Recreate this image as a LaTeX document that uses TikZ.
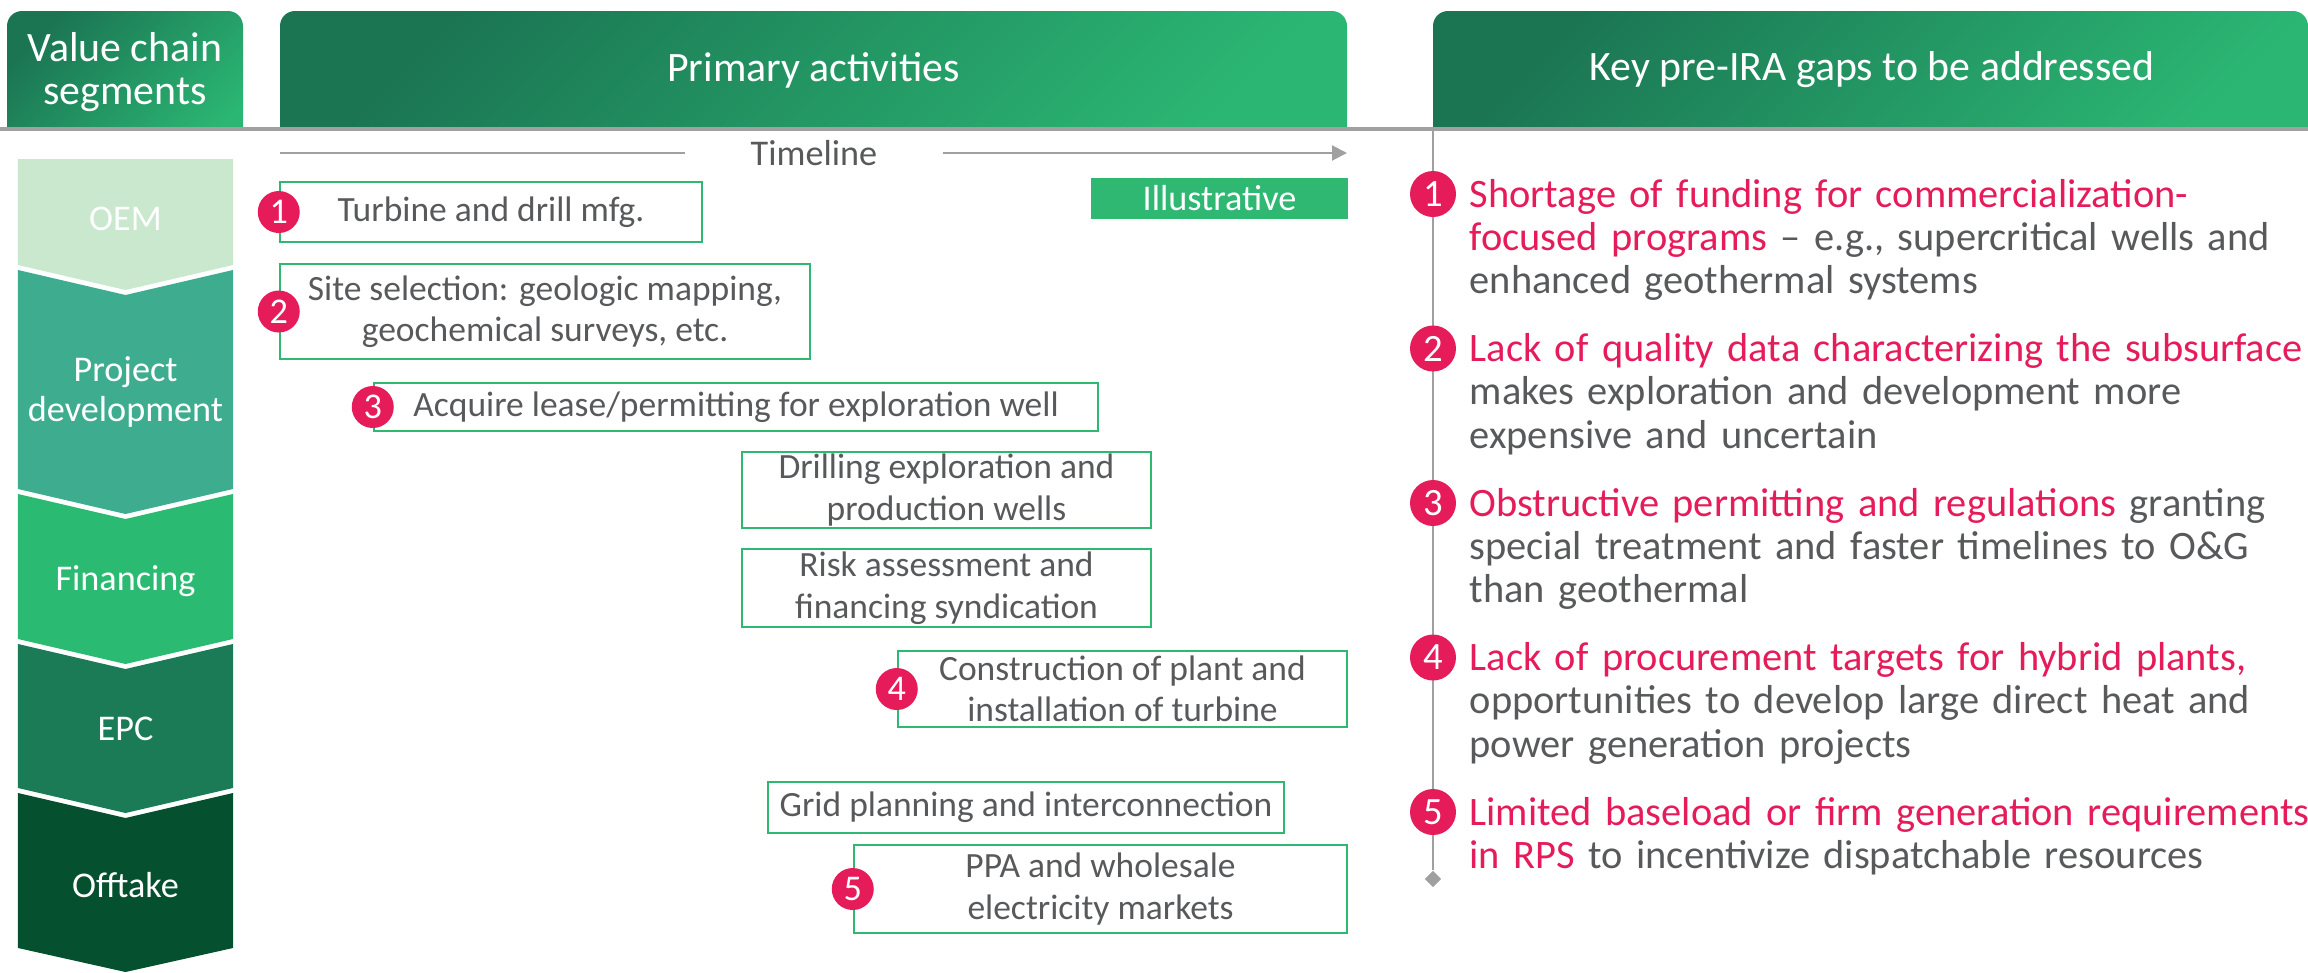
\documentclass[tikz,border=0pt]{standalone}
\usepackage{fontspec}
\setmainfont{Carlito}
\usetikzlibrary{arrows.meta,shapes.geometric}
\definecolor{hdrdark}{HTML}{1B7553}
\definecolor{hdrlight}{HTML}{2BB673}
\definecolor{oemc}{HTML}{C9E8CD}
\definecolor{devc}{HTML}{3EAD8F}
\definecolor{finc}{HTML}{2ABA72}
\definecolor{epcc}{HTML}{1B7B57}
\definecolor{offc}{HTML}{05502E}
\definecolor{boxgreen}{HTML}{2EB872}
\definecolor{badgered}{HTML}{E61B5A}
\definecolor{txtgray}{HTML}{58595B}
\definecolor{rulegray}{HTML}{A0A0A0}

\begin{document}
\begin{tikzpicture}[
	hdr/.style={top color=hdrdark, bottom color=hdrlight, shading angle=45, rounded corners=0.15cm},
	hdrtext/.style={text=white, align=center, font=\fontsize{11.9}{12.3}\selectfont},
	act/.style={draw=boxgreen, line width=0.7pt, text=txtgray, align=center, inner sep=0pt, font=\fontsize{10.1}{11.8}\selectfont},
	num/.style={circle, fill=badgered, text=white, inner sep=0pt, minimum size=0.42cm, font=\fontsize{10.3}{12}\selectfont},
	bignum/.style={num, minimum size=0.46cm, font=\fontsize{11}{12}\selectfont},
	seg/.style={text=white, align=center, font=\fontsize{10.3}{11.4}\selectfont},
	gap/.style={anchor=base west, text width=8.6cm, align=left, inner sep=0pt, text=txtgray, font=\fontsize{11.5}{12.35}\selectfont},
	tline/.style={draw=rulegray, line width=0.6pt},
]
	\useasboundingbox (0,0) rectangle (23.08,-9.72);

	% header bars, clipped flat at the bottom
	\begin{scope}
		\clip (0,-0.11) rectangle (23.08,-1.27);
		\shade[hdr] (0.07,-0.11) rectangle (2.43,-1.6);
		\shade[hdr] (2.80,-0.11) rectangle (13.47,-1.6);
		\shade[hdr] (14.33,-0.11) rectangle (23.08,-1.6);
	\end{scope}
	\node	(h1) at (1.25,-0.72) [hdrtext] {Value chain\\segments};
	\node	(h2) at (8.135,-0.70) [hdrtext] {Primary activities};
	\node	(h3) at (18.72,-0.70) [hdrtext] {Key pre-IRA gaps to be addressed};

	\coordinate (r0) at (0,-1.29);
	\coordinate (r1) at (23.08,-1.29);
	\draw[rulegray, line width=1pt] (r0) -- (r1);

	% value chain chevrons
	\fill[oemc] (0.18,-1.59) -- (2.33,-1.59) -- (2.33,-2.65) -- (1.255,-2.90) -- (0.18,-2.65) -- cycle;
	\fill[devc] (0.18,-2.70) -- (1.255,-2.95) -- (2.33,-2.70) -- (2.33,-4.89) -- (1.255,-5.14) -- (0.18,-4.89) -- cycle;
	\fill[finc] (0.18,-4.94) -- (1.255,-5.19) -- (2.33,-4.94) -- (2.33,-6.39) -- (1.255,-6.64) -- (0.18,-6.39) -- cycle;
	\fill[epcc] (0.18,-6.44) -- (1.255,-6.69) -- (2.33,-6.44) -- (2.33,-7.88) -- (1.255,-8.13) -- (0.18,-7.88) -- cycle;
	\fill[offc] (0.18,-7.93) -- (1.255,-8.18) -- (2.33,-7.93) -- (2.33,-9.48) -- (1.255,-9.72) -- (0.18,-9.48) -- cycle;
	\node	(s1) at (1.255,-2.19) [seg] {OEM};
	\node	(s2) at (1.255,-3.92) [seg] {Project\\development};
	\node	(s3) at (1.255,-5.81) [seg] {Financing};
	\node	(s4) at (1.255,-7.29) [seg] {EPC};
	\node	(s5) at (1.255,-8.85) [seg] {Offtake};

	% timeline
	\coordinate (t0) at (2.80,-1.53);
	\coordinate (t1) at (13.47,-1.53);
	\node	(tl) at (8.14,-1.53) [text=txtgray, inner xsep=0.65cm, font=\fontsize{10.3}{12}\selectfont] {Timeline};
	\draw 
	(t0) edge[tline] (tl)
	(tl) edge[tline, -{Triangle[length=0.15cm, width=0.15cm]}] (t1)
	;
	\node	(il) at (12.195,-1.985) [fill=boxgreen, text=white, minimum width=2.57cm, minimum height=0.41cm, inner sep=0pt, font=\fontsize{10.3}{12}\selectfont] {Illustrative};

	% activities
	\node	(b1) at (4.91,-2.12) [act, minimum width=4.22cm, minimum height=0.60cm] {Turbine and drill mfg.};
	\node	(b2) at (5.45,-3.115) [act, minimum width=5.30cm, minimum height=0.95cm] {Site selection: geologic mapping,\\geochemical surveys, etc.};
	\node	(b3) at (7.36,-4.07) [act, minimum width=7.24cm, minimum height=0.48cm] {Acquire lease/permitting for exploration well};
	\node	(b4) at (9.465,-4.90) [act, minimum width=4.09cm, minimum height=0.76cm] {Drilling exploration and\\production wells};
	\node	(b5) at (9.465,-5.88) [act, minimum width=4.09cm, minimum height=0.78cm] {Risk assessment and\\financing syndication};
	\node	(b6) at (11.225,-6.89) [act, minimum width=4.49cm, minimum height=0.76cm] {Construction of plant and\\installation of turbine};
	\node	(b7) at (10.26,-8.075) [act, minimum width=5.16cm, minimum height=0.51cm] {Grid planning and interconnection};
	\node	(b8) at (11.005,-8.89) [act, minimum width=4.93cm, minimum height=0.88cm] {PPA and wholesale\\electricity markets};
	\node	(a1) at (b1.west) [num] {1};
	\node	(a2) at (b2.west) [num] {2};
	\node	(a3) at (b3.west) [num] {3};
	\node	(a4) at (b6.west) [num] {4};
	\node	(a5) at (b8.west) [num] {5};

	% gaps
	\coordinate (v0) at (14.33,-1.29);
	\node	(dm) at (14.33,-8.79) [diamond, fill=rulegray, inner sep=0pt, minimum size=0.17cm] {};
	\draw[rulegray, line width=0.8pt] (v0) -- (dm);
	\node	(n1) at (14.33,-1.94) [bignum] {1};
	\node	(n2) at (14.33,-3.485) [bignum] {2};
	\node	(n3) at (14.33,-5.03) [bignum] {3};
	\node	(n4) at (14.33,-6.575) [bignum] {4};
	\node	(n5) at (14.33,-8.12) [bignum] {5};
	\node	(g1) at (14.69,-2.07) [gap] {\textcolor{badgered}{Shortage of funding for commercialization-}\\\textcolor{badgered}{focused programs} -- e.g., supercritical wells and\\enhanced geothermal systems};
	\node	(g2) at (14.69,-3.615) [gap] {\textcolor{badgered}{Lack of quality data characterizing the subsurface}\\makes exploration and development more\\expensive and uncertain};
	\node	(g3) at (14.69,-5.16) [gap] {\textcolor{badgered}{Obstructive permitting and regulations} granting\\special treatment and faster timelines to O\&G\\than geothermal};
	\node	(g4) at (14.69,-6.705) [gap] {\textcolor{badgered}{Lack of procurement targets for hybrid plants,}\\opportunities to develop large direct heat and\\power generation projects};
	\node	(g5) at (14.69,-8.25) [gap] {\textcolor{badgered}{Limited baseload or firm generation requirements}\\\textcolor{badgered}{in RPS} to incentivize dispatchable resources};
\end{tikzpicture}
\end{document}
